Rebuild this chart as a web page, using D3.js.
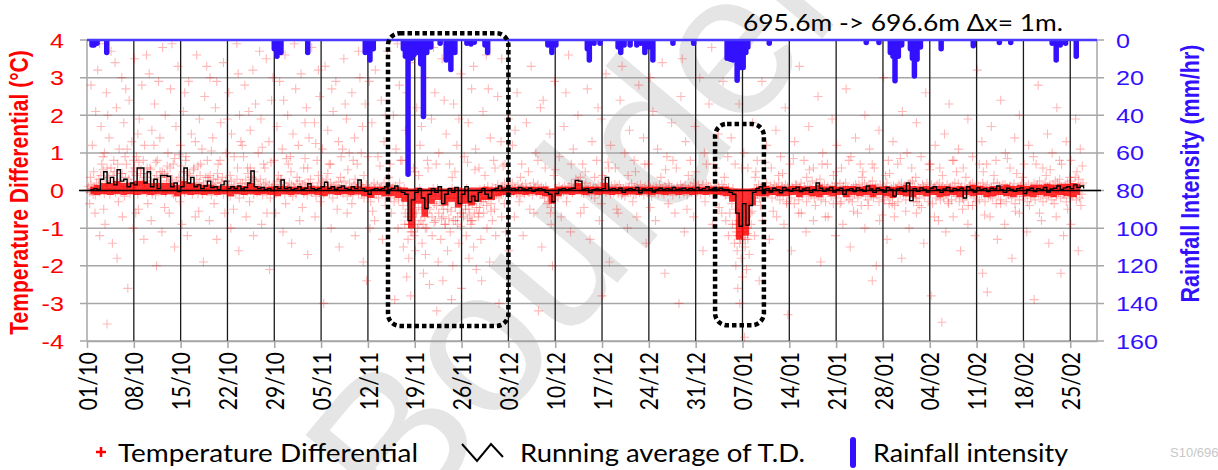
<!DOCTYPE html>
<html><head><meta charset="utf-8">
<script src="https://cdn.jsdelivr.net/npm/d3@7"></script>
<style>html,body{margin:0;padding:0;background:#fff}svg{display:block}</style>
</head><body><svg id="chart" width="1218" height="470"></svg>
<script>
// ---------------- data ----------------
const seasonStart = Date.UTC(2018, 9, 1);          // day 0 = 01/10
const seasonDays = 151;
const xTickLabels = ["01/10","08/10","15/10","22/10","29/10","05/11","12/11","19/11","26/11","03/12","10/12","17/12","24/12","31/12","07/01","14/01","21/01","28/01","04/02","11/02","18/02","25/02"];
const yLeftTicks = [4,3,2,1,0,-1,-2,-3,-4];
const yRightTicks = [0,20,40,60,80,100,120,140,160];
const headerText = "695.6m -> 696.6m Δx= 1m.";
const leftTitle = "Temperature Differential (°C)";
const rightTitle = "Rainfall Intensity (mm/hr)";
const legendLabels = ["Temperature Differential","Running average of T.D.","Rainfall intensity"];
const footnote = "S10/696";
const watermark = "Boulder";

// running average of the temperature differential, one value every half day from day 0.5
const avgStartDay = 0.5, avgStepDays = 0.5;
const avgTD = [
 .02,.05,.03,.3,.5,.2,.35,.15,.55,.25,
 .3,.1,.2,.15,.6,.6,.2,.5,.1,.3,
 .05,.4,.4,.38,.1,.2,-.03,.1,.6,.2,
 .35,.1,.15,.05,.12,.25,.08,.1,.02,.15,
 .25,.05,.1,.05,.12,.04,.08,.2,.52,.1,
 .05,.08,.02,.05,0,.1,.05,.28,.05,.08,
 .02,.05,.1,.03,.06,.18,.05,.02,.05,.1,
 .22,.05,.1,.03,.08,.12,.05,.02,.1,.05,
 .28,.05,-.02,-.1,.02,.05,.02,.05,.1,.02,
 .05,.12,0,-.05,-.1,-.8,-.25,-.05,.05,-.2,
 -.48,-.1,.05,-.05,.1,-.35,-.1,.05,-.05,.08,
 -.35,-.1,.1,-.3,-.15,-.28,-.05,.05,-.1,-.2,
 .02,.05,.12,.03,.05,.02,.05,.02,.08,.04,
 .02,.06,-.02,.03,.05,.02,-.05,-.1,-.3,-.08,
 .03,.05,.02,.04,.06,.27,.25,.03,.05,-.05,
 .02,.04,.02,.05,.35,.03,.05,.02,.06,-.05,
 .03,.05,.02,.08,-.06,.04,.02,.05,-.04,.03,
 .06,.02,.05,.03,.08,.02,.04,.06,.02,.05,
 .03,.08,.02,.05,.1,.03,.05,.02,.06,.03,
 .02,-.05,-.1,-.6,-.95,-.35,-.92,-.4,-.05,.05,
 .1,.03,.05,-.04,.06,.02,-.06,.08,.03,-.02,
 .05,.09,-.03,.04,.07,-.05,.02,.2,.06,-.02,
 .04,.08,-.04,.03,.06,-.1,.02,.05,-.03,.07,
 .03,-.02,.12,.04,-.05,.06,.02,-.04,.08,.03,
 -.15,.04,.06,-.03,.2,-.27,.05,-.02,.07,.03,
 -.04,.06,.1,.02,-.05,.04,.08,-.03,.05,.02,
 .06,-.2,.1,.03,-.04,.07,.02,.05,-.03,.06,
 .04,.12,.02,-.05,.06,.03,-.02,.05,.07,-.08,
 .03,.06,-.03,.05,.02,.08,-.04,.04,.06,.12,
 .03,.07,.1,.05,.15,.08,.12,.05
];

// range holding the bulk of each day's temperature differential readings (°C), row = day index
const tdBandHigh = [
 .1,.15,.2,.2,.25,.2,.2,.25,.25,.2,.2,.2,.2,.15,.25,.2,.18,
 .15,.15,.12,.12,.12,.12,.12,.2,.12,.1,.1,.12,.12,.1,.1,.1,.12,.1,.12,.1,.1,.1,.1,.12,.1,
 .1,.1,.1,.1,.1,.08,.05,.08,.05,.08,.08,.05,.08,.08,.05,.08,.08,.1,.08,.1,.1,
 .1,.1,.1,.1,.1,.1,.05,.1,.1,.1,.2,.1,.1,.1,.2,.1,.1,.1,.1,.1,.1,.1,.1,.1,.1,.1,.1,.1,.1,.1,.1,.1,.1,
 .05,.05,.05,.05,.1,.12,.1,.12,.1,.12,.12,.1,.12,.15,.1,.12,.1,.12,.12,.1,.12,.15,.1,.12,.1,.12,.15,.12,.1,.12,
 .1,.12,.12,.1,.12,.1,.15,.12,.1,.12,.12,.15,.12,.15,.12,.15,.15,.18,.15,.18,.18,.2,.18
];
const tdBandLow = [
 -.1,-.12,-.1,-.12,-.1,-.12,-.1,-.12,-.1,-.12,-.1,-.12,-.1,-.15,-.1,-.12,-.1,
 -.12,-.1,-.12,-.1,-.15,-.1,-.12,-.1,-.12,-.1,-.12,-.15,-.1,-.12,-.1,-.12,-.1,-.12,-.15,-.1,-.12,-.1,-.12,-.1,-.15,
 -.2,-.12,-.15,-.15,-.2,-.3,-1.0,-.35,-.7,-.35,-.25,-.4,-.3,-.45,-.35,-.4,-.3,-.25,-.25,-.15,-.12,
 -.12,-.1,-.12,-.1,-.12,-.15,-.35,-.15,-.1,-.12,-.1,-.12,-.1,-.12,-.1,-.12,-.1,-.12,-.1,-.12,-.1,-.12,-.1,-.12,-.1,-.12,-.1,-.12,-.1,-.12,-.1,-.12,-.15,
 -.3,-1.3,-1.2,-.4,-.15,-.15,-.12,-.15,-.15,-.12,-.18,-.12,-.15,-.18,-.12,-.15,-.12,-.18,-.12,-.15,
 -.12,-.18,-.12,-.15,-.2,-.12,-.15,-.18,-.12,-.15,-.12,-.18,-.15,-.12,-.18,-.12,-.15,-.12,-.18,-.15,
 -.12,-.15,-.18,-.12,-.15,-.18,-.12,-.15,-.18,-.12,-.15,-.18,-.12
];

// temperature differential samples, six per day (row = day index)
const tdDaily = [
 [.02,.1,-.05,.15,.05,-.1],[.08,-.12,.2,.03,.3,-.04],[.4,.1,.55,-.08,.25,.05],[.15,.35,-.1,.6,.05,.2],
 [.5,-.05,.25,.7,.1,.3],[.2,.45,.05,-.15,.35,.1],[.1,.3,-.08,.2,.5,.02],[.6,.15,.4,-.1,.75,.25],
 [.55,.2,.8,.05,.35,-.05],[.45,.1,.6,.25,-.1,.15],[.3,-.12,.4,.08,.2,.5],[.35,.5,.1,.45,-.05,.25],
 [.4,.2,.6,.05,.3,-.1],[.1,-.15,.25,.05,.35,0],[.65,.2,.5,-.05,.8,.1],[.3,.45,.05,.2,-.1,.55],
 [.15,.05,.3,-.08,.2,.4],[.1,-.1,.2,.05,.35,-.03],[.25,.05,.4,-.12,.15,.3],[.08,.2,-.05,.3,.02,.12],
 [.2,.35,-.1,.1,.25,.05],[.05,.15,-.15,.25,.02,.1],[.12,-.05,.3,.08,-.2,.18],[.04,.2,-.1,.1,.28,-.02],
 [.45,.15,.6,.05,.3,-.1],[.1,.25,-.05,.15,.02,.3],[.06,-.12,.18,.03,.22,-.06],[.02,.15,-.2,.08,.1,-.04],
 [.1,-.08,.25,.05,.15,.3],[.3,.05,.2,-.1,.12,.02],[.08,.2,-.05,.15,-.15,.1],[.05,-.1,.18,.02,.25,.07],
 [.03,.15,-.08,.2,.05,-.12],[.2,.06,.3,-.05,.12,.02],[.02,-.15,.1,.2,-.05,.08],[.1,.25,-.1,.05,.3,.15],
 [.05,-.06,.2,.1,-.2,.12],[.03,.15,-.1,.22,.05,-.04],[.12,-.08,.25,.02,.1,-.15],[.02,.2,-.05,.08,-.12,.15],
 [.3,.05,.2,-.1,.15,.02],[-.1,.1,-.2,.05,.15,-.05],[-.15,.05,-.3,.1,-.05,.2],[.05,-.1,.15,-.2,.08,.02],
 [.1,-.05,.2,-.15,.03,.12],[-.08,.15,-.2,.05,.1,-.3],[.12,-.1,.05,-.25,.2,-.05],[-.2,-.4,.05,-.6,-.1,-.3],
 [-.9,-.5,-1.1,-.7,-.3,-1.2],[-.3,-.6,-.1,-.45,.05,-.8],[-.5,-.9,-.3,-1.0,-.2,-.6],[-.25,-.5,-.1,-.7,.05,-.35],
 [-.15,-.4,.05,-.6,-.3,-.1],[-.4,-.7,-.2,-.9,-.1,-.5],[-.3,-.1,-.55,.05,-.8,-.2],[-.45,-.2,-.7,-.1,-.35,-.95],
 [-.3,-.6,-.15,-.4,.05,-.75],[-.5,-.2,-.8,-.35,-.1,-.6],[-.25,-.45,-.1,-.6,.02,-.3],[-.1,-.3,.05,-.2,-.4,.1],
 [-.2,-.05,-.35,.08,-.15,-.5],[.05,-.1,.15,-.2,.02,-.08],[.1,-.05,.2,-.12,.05,.15],[.03,.12,-.08,.2,-.04,.06],
 [.05,-.1,.15,.02,-.15,.08],[.12,.02,-.08,.18,.05,-.03],[-.05,.1,.03,-.12,.2,.06],[.08,-.06,.15,.02,-.1,.1],
 [-.1,.05,-.2,.1,.02,-.15],[-.3,-.15,-.45,-.05,-.25,.05],[-.1,.05,-.2,.1,-.05,.02],[.06,-.04,.12,.02,-.1,.08],
 [.1,.02,.18,-.06,.05,.14],[.3,.15,.25,.05,.35,-.05],[.05,-.08,.12,.2,-.03,.07],[-.05,.1,-.12,.04,.08,-.2],
 [.08,.02,.15,-.06,.1,-.02],[.4,.2,.3,-.05,.1,.05],[.06,-.1,.12,.03,-.05,.15],[.02,.1,-.08,.15,.05,-.12],
 [-.08,.05,-.15,.1,-.02,.06],[.1,-.05,.18,.02,-.1,.08],[-.1,.12,.03,-.06,.15,-.02],[.05,-.12,.1,.02,-.06,.14],
 [-.06,.08,-.15,.03,.1,-.02],[.1,.02,-.08,.15,.05,-.04],[.04,-.1,.12,.06,-.03,.18],[.12,-.02,.08,-.12,.05,.02],
 [-.04,.1,.02,-.1,.15,.05],[.08,-.06,.14,.02,-.12,.06],[.02,.12,-.05,.08,.2,-.08],[.1,-.04,.15,.05,-.1,.03],
 [.15,.05,-.06,.2,.02,.1],[-.05,.08,.02,-.1,.12,.04],[.06,-.08,.1,.02,-.04,.16],[.03,.1,-.12,.05,-.02,.08],
 [-.2,-.05,-.35,.05,-.15,-.5],[-.9,-1.2,-.6,-1.4,-.8,-1.1],[-1.0,-.5,-1.3,-.7,-1.15,-.4],[-.35,-.1,-.55,-.2,.05,-.3],
 [.05,-.1,.15,-.2,.08,-.05],[.1,-.15,.05,.2,-.08,.02],[-.05,.12,-.2,.05,.15,-.1],[.08,-.1,.2,-.25,.03,.12],
 [-.12,.05,.15,-.3,.1,-.02],[.05,-.2,.1,.02,-.35,.15],[.15,-.05,-.25,.08,.2,-.1],[-.08,.1,.02,-.3,.12,-.15],
 [.1,-.12,.25,-.05,-.2,.05],[.2,.05,-.1,.3,-.25,.1],[-.1,.15,-.3,.05,.1,-.05],[.05,-.15,.12,-.35,.08,.2],
 [-.2,.1,-.05,.18,-.3,.02],[.12,-.08,.2,-.15,.05,-.25],[-.15,.05,-.3,.1,-.1,.15],[.08,-.2,.15,.02,-.4,.1],
 [-.05,.2,-.15,.1,-.25,.05],[.15,-.1,.25,-.2,.05,.1],[-.12,.08,-.3,.15,.02,-.18],[.1,-.25,.05,.2,-.1,-.35],
 [-.2,.05,-.15,.12,-.4,.08],[.05,-.3,.15,-.1,.2,-.05],[-.1,.12,-.25,.05,.18,-.15],[.2,-.05,.25,-.3,.1,-.2],
 [-.3,.1,-.2,.05,-.45,.15],[.1,-.15,.05,.2,-.3,-.05],[-.05,.15,-.35,.08,.1,-.2],[.15,-.1,.2,-.25,.05,.12],
 [-.2,.05,-.1,.15,-.3,.08],[.08,-.25,.12,-.05,.2,-.15],[-.1,.18,-.3,.05,.1,-.2],[-.25,.1,-.15,.05,-.4,.12],
 [.15,-.05,.2,-.2,.08,-.3],[-.08,.12,-.25,.1,-.1,.2],[.1,-.3,.05,.15,-.15,.02],[-.15,.08,-.2,.2,-.05,-.35],
 [.2,-.1,.12,-.25,.05,.15],[-.05,.15,-.3,.08,-.12,.1],[.12,-.2,.05,.18,-.35,-.05],[-.1,.05,-.25,.12,.2,-.15],
 [.05,-.15,.1,-.3,.15,-.05],[-.2,.1,-.05,.2,-.25,.08],[.15,-.1,.25,-.15,.05,-.3],[-.05,.2,-.2,.1,-.1,.15],
 [.1,-.25,.15,-.05,.25,-.15],[.2,-.05,.3,-.2,.1,-.1],[-.1,.15,-.3,.2,.05,-.2],[.25,-.15,.1,-.05,.35,-.25],
 [.1,.3,-.2,.15,-.1,.2]
];

// scattered temperature differential readings away from the main band: [day, °C]
const tdScattered = [
 [0.8,1.2],[1.3,2.1],[1.6,3.2],[2.1,1.7],[2.4,0.9],[2.9,2.6],[3.3,1.4],[3.6,3.7],[4.0,0.8],[4.4,2.2],[4.8,1.1],[5.2,3.0],
 [5.5,1.8],[5.9,0.7],[6.3,2.4],[6.7,1.3],[7.1,3.5],[7.4,0.9],[7.8,1.9],[8.2,2.8],[8.6,1.2],[9.0,0.6],[9.3,3.1],[9.7,1.6],
 [10.1,2.3],[10.5,0.8],[10.9,1.4],[11.3,3.8],[11.7,2.0],[12.1,1.0],[12.5,2.7],[12.9,0.7],[13.3,1.7],[13.6,3.3],[14.0,1.2],
 [14.4,2.1],[14.8,0.9],[15.2,2.9],[15.6,1.5],[16.0,0.6],[16.4,3.6],[16.8,1.9],[17.2,1.1],[17.6,2.5],[18.0,0.8],[18.4,3.0],
 [18.8,1.4],[19.2,2.2],[19.6,0.7],[20.0,1.8],[20.4,3.4],[20.8,1.0],[21.2,2.6],[21.6,1.5],[22.0,0.9],[22.4,3.9],[22.8,2.0],
 [23.2,1.2],[23.6,2.8],[24.0,0.6],[24.4,1.6],[24.8,3.2],[25.2,2.3],[25.6,1.0],[26.0,1.9],[26.4,0.7],[26.8,3.5],[27.2,1.3],
 [27.6,2.4],[28.0,0.8],[28.4,1.7],[28.8,2.9],[29.2,1.1],[29.6,3.6],[30.0,2.0],[30.4,0.9],[30.8,1.5],[31.2,2.7],[31.6,1.2],
 [32.0,3.1],[32.4,0.6],[32.8,2.2],[33.2,1.4],[33.6,3.8],[34.0,1.8],[34.4,0.8],[34.8,2.5],[35.2,1.1],[35.6,3.3],[36.0,1.6],
 [36.4,0.7],[36.8,2.1],[37.2,2.9],[37.6,1.3],[38.0,0.9],[38.4,3.5],[38.8,1.9],[39.2,1.0],[39.6,2.6],[40.0,1.4],[40.4,0.7],
 [40.8,3.0],[41.2,1.7],[41.6,2.3],[42.0,0.9],
 [0.6,2.8],[1.9,3.9],[3.1,2.0],[4.2,3.4],[5.8,2.7],[7.6,1.5],[8.9,3.6],[10.7,2.9],[12.7,3.9],[14.6,2.6],[16.2,1.3],[17.9,3.3],
 [19.4,2.9],[21.0,1.9],[22.6,3.1],[24.2,2.1],[25.8,3.7],[27.8,3.0],[29.4,2.4],[31.0,3.9],[32.6,1.8],[34.6,3.2],[36.6,2.7],
 [38.6,2.3],[40.6,3.7],[42.2,2.9],[44.6,2.0],[46.4,3.9],[47.8,2.6],[50.0,1.7],[51.8,3.8],[53.4,2.4],[55.6,1.9],[57.8,3.3],
 [60.0,2.7],[62.0,3.5],[64.0,1.6],[68.2,2.4],[71.6,2.6],[76.4,2.2],[80.0,3.3],[84.2,3.0],[89.0,3.5],[93.4,3.8],
 [1.0,0.5],[3.0,0.6],[5.0,0.45],[7.0,0.8],[9.5,0.55],[12.0,0.65],[14.5,0.5],[17.0,0.7],[19.5,0.45],[22.5,0.6],[25.0,0.5],
 [27.5,0.75],[30.5,0.5],[33.0,0.6],[36.0,0.45],[39.0,0.55],[2.6,1.0],[6.0,1.1],[10.0,1.2],[13.8,0.95],[18.6,1.05],[23.0,1.3],
 [26.2,1.15],[29.8,0.85],[34.2,1.25],[38.2,1.1],[41.0,1.0],
 [0.5,0.35],[2.2,0.7],[3.9,0.4],[5.7,0.9],[8.0,0.45],[10.3,0.75],[11.9,0.35],[13.1,0.85],[15.4,0.4],[16.6,0.65],[18.1,0.35],
 [19.9,0.8],[21.4,0.4],[23.4,0.9],[24.6,0.35],[26.6,0.6],[28.6,0.4],[30.1,0.7],[31.4,0.35],[32.6,0.85],[34.6,0.4],[36.2,0.7],
 [37.9,0.35],[39.8,0.8],[41.4,0.4],[43.8,0.65],[45.1,0.35],[46.9,0.8],[49.6,0.4],[52.2,0.7],[54.6,0.35],[56.9,0.75],[59.5,0.4],
 [62.2,0.65],[64.8,0.35],[67.4,0.8],[69.8,0.4],[72.4,0.7],[75.9,0.35],[77.9,0.75],[80.9,0.4],[83.4,0.7],[85.8,0.35],[87.6,0.8],
 [89.9,0.4],[92.6,0.7],[95.3,0.35],[97.9,0.6],[99.9,0.35],[101.4,0.75],[103.4,0.4],[105.6,0.85],[107.6,0.35],[109.9,0.7],
 [111.6,0.4],[113.9,0.8],[115.9,0.35],[117.4,0.7],[119.4,0.4],[121.6,0.85],[123.9,0.35],[125.9,0.7],[127.9,0.4],[129.4,0.8],
 [131.4,0.35],[133.4,0.7],[135.6,0.4],[137.6,0.85],[139.9,0.35],[141.9,0.7],[143.4,0.4],[145.4,0.8],[146.9,0.35],[148.8,0.65],
 [1.2,-0.6],[1.9,-1.2],[2.7,-0.9],[3.0,-3.55],[3.8,-1.4],[4.5,-1.8],[5.3,-0.7],[6.1,-2.6],[6.9,-1.0],[7.7,-0.5],[8.5,-1.3],
 [9.6,-0.8],[10.4,-2.0],[11.2,-1.1],[12.3,-0.6],[13.1,-1.5],[14.2,-0.9],[15.0,-1.2],[16.2,-0.7],[17.4,-1.9],[18.3,-0.8],
 [19.4,-1.3],[20.6,-0.6],[21.5,-1.0],[22.7,-1.6],[23.8,-0.7],[24.9,-1.2],[26.1,-0.9],[27.3,-2.1],[28.2,-0.6],[29.3,-1.1],
 [30.6,-1.4],[31.8,-0.8],[33.0,-1.7],[34.1,-0.7],[35.4,-3.0],[36.5,-1.0],[37.7,-1.5],[38.9,-0.6],[40.1,-1.2],[41.3,-1.9],
 [41.8,-2.4],[42.3,-1.0],
 [0.4,-0.35],[2.5,-0.5],[4.7,-0.3],[7.3,-0.6],[9.1,-0.35],[11.6,-0.45],[13.9,-0.3],[16.7,-0.55],[19.0,-0.35],[21.9,-0.5],
 [24.3,-0.3],[26.9,-0.6],[29.7,-0.35],[32.2,-0.45],[34.9,-0.3],[37.4,-0.5],[39.6,-0.35],[42.7,-0.55],[44.6,-0.4],[47.5,-0.9],
 [48.7,-0.6],[49.4,-1.0],[50.9,-0.45],[51.9,-0.85],[53.3,-0.5],[54.1,-0.75],[55.4,-0.9],[56.6,-0.5],[57.6,-0.8],[58.7,-0.45],
 [60.4,-0.55],[62.4,-0.35],[64.6,-0.3],[66.2,-0.5],[68.8,-0.35],[69.3,-0.6],[71.7,-0.3],[74.3,-0.45],[76.9,-0.35],[79.2,-0.5],
 [81.6,-0.3],[84.2,-0.45],[86.9,-0.35],[89.7,-0.5],[92.4,-0.3],[94.5,-0.45],[96.1,-0.6],[97.1,-1.1],[97.4,-0.8],[97.7,-1.3],
 [97.9,-0.9],[98.2,-1.25],[98.5,-0.75],[98.7,-1.0],[99.2,-0.6],[100.7,-0.4],[102.6,-0.55],[104.6,-0.35],[106.8,-0.6],
 [108.9,-0.4],[110.4,-0.7],[112.6,-0.35],[114.6,-0.55],[116.8,-0.4],[118.9,-0.65],[120.4,-0.35],[122.4,-0.55],[124.4,-0.4],
 [126.7,-0.7],[128.8,-0.35],[130.9,-0.5],[132.4,-0.4],[134.2,-0.65],[136.6,-0.35],[138.8,-0.55],[140.9,-0.4],[142.4,-0.6],
 [144.6,-0.35],[146.6,-0.5],[148.6,-0.4],
 [42.6,1.8],[43.1,3.2],[43.5,0.9],[44.0,2.4],[44.4,1.3],[44.9,3.7],[45.3,0.7],[45.8,2.0],[46.2,1.1],[46.7,2.8],[47.1,0.8],
 [47.6,1.6],[48.3,3.4],[48.8,0.6],[49.3,2.2],[49.8,1.2],[50.4,3.0],[50.9,0.8],[51.5,1.9],[52.0,2.6],[52.6,1.0],[53.1,3.5],
 [53.7,1.5],[54.2,0.7],[54.8,2.3],[55.3,1.2],[55.9,3.1],[56.4,0.9],[57.0,1.8],[57.5,2.7],[58.1,1.1],[58.6,0.6],[59.2,2.1],
 [59.7,3.6],[60.3,1.4],[60.8,0.8],[61.4,2.5],[61.9,1.3],[62.5,0.7],[63.0,1.9],[49.0,0.5],[51.0,0.6],[55.0,0.5],[58.0,0.55],
 [61.0,0.6],
 [43.0,-0.8],[44.2,-1.3],[45.5,-0.6],[46.5,-1.0],[47.3,-1.5],[47.8,-2.3],[48.1,-1.8],[48.4,-2.8],[48.0,-1.3],[48.6,-1.1],
 [49.1,-1.6],[49.6,-0.9],[50.1,-1.4],[50.3,-2.2],[50.6,-1.7],[50.8,-1.0],[51.2,-2.5],[51.6,-1.2],[52.1,-0.8],[52.5,-1.9],
 [52.9,-1.3],[53.2,-2.4],[53.5,-0.9],[53.9,-1.6],[54.3,-1.1],[54.7,-2.0],[55.1,-0.8],[55.6,-1.4],[56.0,-2.6],[56.3,-0.7],
 [56.7,-1.2],[57.1,-1.8],[57.4,-0.9],[57.8,-1.5],[58.2,-2.1],[58.5,-0.7],[58.9,-1.3],[59.3,-0.6],[59.8,-1.0],[60.2,-1.9],
 [60.6,-0.8],[61.1,-1.2],[61.6,-3.0],[62.0,-0.7],[62.6,-1.1],[63.1,-1.6],[48.2,-0.9],[47.9,-0.7],[50.5,-0.7],[53.0,-0.75],
 [55.8,-0.6],[57.2,-0.65],[46.0,-2.9],[52.3,-3.2],[59.0,-2.4],[54.5,-2.9],
 [63.6,1.2],[64.3,2.6],[65.0,0.7],[65.7,1.8],[66.4,3.3],[67.1,1.0],[67.8,2.2],[68.5,0.6],[69.2,1.5],[69.9,2.9],[70.6,0.9],
 [71.3,1.7],[72.0,3.6],[72.7,1.1],[73.4,2.0],[74.1,0.7],[74.8,2.7],[75.5,1.3],[76.2,0.8],[76.9,1.9],[77.6,3.1],[78.3,1.2],
 [79.0,0.6],[79.7,2.4],[80.4,1.0],[81.1,1.6],[81.8,0.8],[82.5,2.8],[83.2,1.4],[83.9,0.7],[84.6,2.1],[85.3,1.1],[86.0,3.4],
 [86.7,0.9],[87.4,1.8],[88.1,0.6],[88.8,2.5],[89.5,1.3],[90.2,0.8],[90.9,1.7],[91.6,3.0],[92.3,1.0],[93.0,2.3],[93.7,0.7],
 [94.4,1.5],[95.1,2.9],[95.8,0.9],[66.0,0.5],[70.0,0.55],[74.5,0.5],[78.0,0.6],[82.0,0.5],[86.5,0.55],[91.0,0.5],[94.0,0.6],
 [63.9,-0.7],[65.2,-1.2],[66.8,-0.6],[68.0,-1.5],[69.4,-0.9],[69.6,-2.0],[70.9,-0.7],[72.3,-1.1],[73.8,-0.6],[75.2,-1.3],
 [76.6,-0.8],[78.1,-1.9],[79.4,-0.6],[80.8,-1.0],[82.2,-0.7],[83.6,-1.4],[85.0,-0.8],[86.4,-2.2],[87.9,-0.6],[89.3,-1.1],
 [90.7,-0.7],[92.1,-1.6],[93.5,-0.9],[94.9,-0.6],[95.9,-1.2],[67.5,-3.2],[77.0,-2.8],[88.5,-3.0],
 [96.3,1.4],[96.9,0.7],[97.5,2.3],[98.2,1.0],[98.8,0.6],[99.5,1.8],[100.2,0.8],[100.9,2.9],[101.6,1.2],[102.3,0.6],
 [103.0,1.6],[103.7,0.9],[104.4,2.2],[105.1,0.7],[105.8,1.3],[106.5,3.3],[107.2,0.8],[107.9,1.7],[108.6,0.6],[109.3,2.5],
 [110.0,1.0],[110.7,0.7],[111.4,1.9],[112.1,1.2],[112.8,0.6],[113.5,2.7],[114.2,0.9],[114.9,1.4],[115.6,0.7],[116.3,2.0],
 [117.0,1.1],[117.7,0.6],[118.4,1.6],[119.1,3.0],[119.8,0.8],[120.5,1.3],[121.2,0.7],[121.9,2.1],[122.6,1.0],[123.3,0.6],
 [124.0,1.8],[124.7,0.9],[125.4,2.6],[126.1,0.7],[126.8,1.2],[127.5,0.6],[128.2,1.5],[128.9,2.3],[129.6,0.8],[130.3,1.1],
 [131.0,0.6],[131.7,1.9],[132.4,0.9],[133.1,3.2],[133.8,1.3],[134.5,0.7],[135.2,1.7],[135.9,0.8],[136.6,2.4],[137.3,1.0],
 [138.0,0.6],[138.7,1.4],[139.4,2.0],[140.1,0.7],[140.8,1.2],[141.5,0.9],[142.2,2.8],[142.9,0.6],[143.6,1.5],[144.3,1.0],
 [145.0,2.2],[145.7,0.7],[146.4,1.3],[147.1,0.8],[147.8,1.9],[148.5,1.1],[100.0,0.5],[104.0,0.45],[108.0,0.55],[112.0,0.5],
 [116.0,0.5],[120.0,0.45],[126.0,0.55],[130.0,0.5],[134.0,0.5],[139.0,0.45],[144.0,0.55],[148.0,0.5],
 [96.8,-1.4],[97.0,-2.0],[97.2,-1.6],[97.3,-2.6],[97.5,-1.2],[97.6,-3.0],[97.8,-1.8],[98.0,-2.3],[98.1,-1.1],[98.3,-3.9],
 [98.4,-1.5],[98.6,-2.1],[98.8,-1.3],[99.0,-1.7],[99.3,-0.9],[99.8,-1.2],[100.5,-2.4],[96.5,-0.9],[95.5,-0.8],[101.0,-0.8],
 [102.0,-1.3],[103.1,-0.7],[104.2,-0.9],[105.3,-1.6],[106.4,-0.6],[107.5,-1.1],[108.6,-0.8],[109.7,-1.9],[110.8,-0.7],
 [111.9,-1.2],[113.0,-0.9],[114.1,-1.5],[115.2,-0.6],[116.3,-1.0],[117.4,-2.4],[118.5,-0.8],[119.6,-1.3],[120.7,-0.7],
 [121.8,-1.8],[122.9,-1.0],[124.0,-0.6],[125.1,-1.4],[126.2,-2.8],[127.3,-0.8],[128.4,-1.1],[129.5,-0.7],[130.6,-1.6],
 [131.7,-0.9],[132.8,-1.2],[133.9,-2.2],[135.0,-0.7],[136.1,-1.3],[137.2,-0.9],[138.3,-1.8],[139.4,-0.6],[140.5,-1.1],
 [141.6,-2.9],[142.7,-0.8],[143.8,-1.4],[144.9,-0.7],[146.0,-1.2],[147.1,-0.9],[148.2,-1.6],[104.8,-3.3],[118.0,-2.0],
 [127.8,-3.5],[134.6,-2.7],[145.6,-2.2]
];

// rainfall intensity: [day, mm/hr]
const rainfall = [
 [0.75,4],[1.05,4],[1.5,3],[2.95,8],[28.0,6],[28.4,10],[29.0,8],[33.0,8],[41.6,8],[42.3,12],[42.8,6],
 [47.3,6],[47.6,10],[48.0,72.7],[48.5,11],[48.9,9],[49.5,8],[49.9,14],[50.3,42],[50.8,8],[51.4,5],[52.8,3],
 [53.7,12],[54.4,17],[55.0,8],[56.8,3],[57.4,3.5],[57.9,2.5],[59.5,4],[59.9,8],
 [68.9,4],[69.5,8],[70.1,4],[74.8,6],[75.1,12],[75.8,3],[76.7,3],[79.4,5],[79.8,8],[80.3,4],
 [81.2,4],[82.2,4],[82.8,3],[83.4,8],[84.0,5],[84.6,12],[87.6,3],[90.7,3],
 [95.7,11],[96.2,11.5],[96.6,12],[97.2,22.7],[97.7,16],[98.1,16],[98.5,8],[98.8,5],[102.0,3],
 [116.5,2.7],[118.4,2.7],[120.1,8],[120.5,10],[120.8,23],[121.3,10],[121.8,4],
 [123.1,6],[123.4,11],[123.7,20.4],[124.1,11.5],[124.6,5],[127.7,6],[132.5,4.4],[136.4,2.7],[138.1,2.7],
 [144.3,3],[144.9,12],[145.5,4],[146.3,3],[147.9,10]
];

// boxed periods of interest: [from day, to day, top °C, bottom °C]
const highlights = [[45.0, 63.0, 4.18, -3.6], [93.9, 101.2, 1.77, -3.58]];

// ---------------- drawing ----------------
const svg = d3.select("#chart");
const L = 87, R = 1097, T = 40, B = 341;
const SX = 1.2;   // glyphs are drawn slightly wide
const dayToDate = d => new Date(seasonStart + d * 864e5);
const x = d3.scaleUtc().domain([dayToDate(0), dayToDate(seasonDays)]).range([L, R]);
const yL = d3.scaleLinear().domain([-4, 4]).range([B, T]);
const yR = d3.scaleLinear().domain([0, 160]).range([T, B]);
const parseTick = s => { const [dd, mm] = s.split("/").map(Number); return new Date(Date.UTC(mm >= 10 ? 2018 : 2019, mm - 1, dd)); };
const tickDates = xTickLabels.map(parseTick);

const RED = "#ff0000", BLUE = "#3311ff", GRID = "#a6a6a6";
const SANS = "Liberation Sans, Arial, sans-serif";

// watermark
svg.append("text").attr("x", 0).attr("y", 0)
  .attr("transform", "translate(575,222) rotate(-50)")
  .attr("text-anchor", "middle").attr("dominant-baseline", "central")
  .attr("font-family", SANS).attr("font-size", 205)
  .attr("fill", "#e5e5e5").text(watermark);

// horizontal grid + left/right ticks
svg.append("g").selectAll("line").data(yLeftTicks).join("line")
  .attr("x1", L - 7).attr("x2", R + 7).attr("y1", d => yL(d)).attr("y2", d => yL(d))
  .attr("stroke", GRID).attr("stroke-width", 1.5);

// vertical week lines
svg.append("g").selectAll("line").data(tickDates.slice(1)).join("line")
  .attr("x1", d => x(d)).attr("x2", d => x(d)).attr("y1", T).attr("y2", B)
  .attr("stroke", "#1a1a1a").attr("stroke-width", 1.3);

// bottom axis with week ticks
const xAxis = svg.append("g").attr("transform", `translate(0,${B})`)
  .call(d3.axisBottom(x).tickValues(tickDates).tickSize(7).tickSizeOuter(0).tickFormat((d, i) => xTickLabels[i]));
xAxis.select(".domain").attr("stroke", GRID).attr("stroke-width", 1.5);
xAxis.selectAll(".tick line").attr("stroke", GRID).attr("stroke-width", 1.5);
xAxis.selectAll(".tick text")
  .attr("transform", `scale(${SX},1) rotate(-90)`).attr("x", -11).attr("y", 0).attr("dy", "0.36em")
  .attr("text-anchor", "end").attr("font-family", "Lato, sans-serif").attr("font-size", 21).attr("fill", "#000");

// left and right axis lines
svg.append("line").attr("x1", L).attr("x2", L).attr("y1", T).attr("y2", B).attr("stroke", GRID).attr("stroke-width", 1.5);
svg.append("line").attr("x1", R).attr("x2", R).attr("y1", T).attr("y2", B).attr("stroke", GRID).attr("stroke-width", 1.5);

// left tick labels
svg.append("g").selectAll("text").data(yLeftTicks).join("text")
  .attr("transform", d => `translate(64,${yL(d)}) scale(${SX},1)`).attr("dy", "0.36em").attr("text-anchor", "end")
  .attr("font-family", SANS).attr("font-size", 21).attr("fill", RED)
  .text(d => d);
// right tick labels
svg.append("g").selectAll("text").data(yRightTicks).join("text")
  .attr("transform", d => `translate(1116,${yR(d)}) scale(${SX},1)`).attr("dy", "0.36em").attr("text-anchor", "start")
  .attr("font-family", SANS).attr("font-size", 21).attr("fill", BLUE)
  .text(d => d);

// axis titles
svg.append("text").attr("transform", `translate(19,${(T + B) / 2 + 2}) scale(${SX},1) rotate(-90)`)
  .attr("text-anchor", "middle").attr("dominant-baseline", "central")
  .attr("font-family", SANS).attr("font-weight", "bold").attr("font-size", 21)
  .attr("fill", RED).text(leftTitle);
svg.append("text").attr("transform", `translate(1190,${(T + B) / 2 - 17}) scale(${SX},1) rotate(-90)`)
  .attr("text-anchor", "middle").attr("dominant-baseline", "central")
  .attr("font-family", SANS).attr("font-weight", "bold").attr("font-size", 21.5)
  .attr("fill", BLUE).text(rightTitle);

// bulk of the temperature differential readings
const band = d3.area().curve(d3.curveStep)
  .x((d, i) => x(dayToDate(i + 0.5))).y0((d, i) => yL(tdBandLow[i])).y1(d => yL(d));
svg.append("path").datum(tdBandHigh).attr("d", band).attr("fill", RED).attr("fill-opacity", 0.8);

// temperature differential scatter (plus markers)
const tdPoints = [];
tdDaily.forEach((row, day) => row.forEach((v, k) => tdPoints.push([day + (k + 0.5) / row.length, v])));
tdScattered.forEach(p => tdPoints.push(p));
const plus = (cx, cy, s) => `M${cx - s},${cy}h${2 * s}M${cx},${cy - s}v${2 * s}`;
svg.append("g").selectAll("path").data(tdPoints).join("path")
  .attr("d", d => plus(x(dayToDate(d[0])), yL(d[1]), 4.5))
  .attr("stroke", RED).attr("stroke-width", 1.1).attr("stroke-opacity", 0.28).attr("fill", "none");

// zero line
svg.append("line").attr("x1", L - 8).attr("x2", R + 4).attr("y1", yL(0)).attr("y2", yL(0))
  .attr("stroke", "#000").attr("stroke-width", 1.5);

// running average
const line = d3.line().curve(d3.curveStepAfter)
  .x((d, i) => x(dayToDate(avgStartDay + i * avgStepDays))).y(d => yL(d));
svg.append("path").datum(avgTD).attr("d", line)
  .attr("fill", "none").attr("stroke", "#000").attr("stroke-width", 1.4);

// rainfall bars hanging from the top axis
svg.append("clipPath").attr("id", "plotclip").append("rect").attr("x", L).attr("y", T).attr("width", R - L).attr("height", B - T);
svg.append("g").attr("clip-path", "url(#plotclip)").selectAll("line").data(rainfall).join("line")
  .attr("x1", d => x(dayToDate(d[0]))).attr("x2", d => x(dayToDate(d[0])))
  .attr("y1", yR(0) - 3).attr("y2", d => yR(d[1]) - 2.5)
  .attr("stroke", BLUE).attr("stroke-width", 5.5).attr("stroke-linecap", "round");
svg.append("line").attr("x1", L).attr("x2", R).attr("y1", T).attr("y2", T)
  .attr("stroke", "#4a3aff").attr("stroke-width", 2.5);

// dotted boxes around the events
svg.append("g").selectAll("rect").data(highlights).join("rect")
  .attr("x", d => x(dayToDate(d[0]))).attr("y", d => yL(d[2]))
  .attr("width", d => x(dayToDate(d[1])) - x(dayToDate(d[0]))).attr("height", d => yL(d[3]) - yL(d[2]))
  .attr("rx", 12).attr("fill", "none").attr("stroke", "#000").attr("stroke-width", 4.5)
  .attr("stroke-dasharray", "4.5 3");

// header
svg.append("text").attr("x", 743).attr("y", 31).attr("font-family", "Lato, sans-serif").attr("font-size", 24)
  .attr("fill", "#000").attr("textLength", 320).attr("lengthAdjust", "spacingAndGlyphs").text(headerText);

// legend
const lg = svg.append("g");
lg.append("path").attr("d", plus(101, 452, 5)).attr("stroke", RED).attr("stroke-width", 2.5);
lg.append("path").attr("d", "M462,444L477,461L491,444L503,457").attr("fill", "none").attr("stroke", "#000").attr("stroke-width", 2);
lg.append("line").attr("x1", 853).attr("x2", 853).attr("y1", 440).attr("y2", 465)
  .attr("stroke", BLUE).attr("stroke-width", 6).attr("stroke-linecap", "round");
const legendX = [[118, 300], [520, 285], [873, 195]];
lg.selectAll("text").data(legendLabels).join("text")
  .attr("x", (d, i) => legendX[i][0]).attr("y", 462)
  .attr("textLength", (d, i) => legendX[i][1]).attr("lengthAdjust", "spacingAndGlyphs")
  .attr("font-family", "Lato, sans-serif").attr("font-size", 25).attr("fill", "#000").text(d => d);
svg.append("text").attr("x", 1170).attr("y", 457).attr("font-family", SANS)
  .attr("font-size", 13).attr("fill", "#c8c8c8").text(footnote);
</script></body></html>
